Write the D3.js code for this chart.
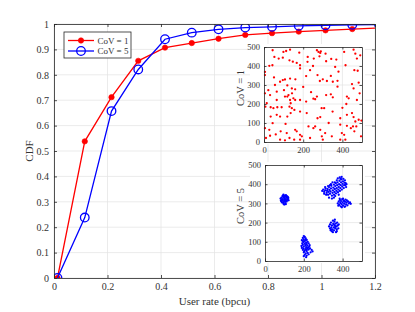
<!DOCTYPE html>
<html><head><meta charset="utf-8">
<script src="https://cdn.jsdelivr.net/npm/d3@7"></script>
<style>
body{margin:0;background:#fff}
svg{display:block;font-family:"Liberation Serif","Times New Roman",serif}
</style>
</head><body>
<svg id="c" width="415" height="312"></svg>
<script>
// ---------- data ----------
const rateX   = [0.013,0.115,0.215,0.315,0.415,0.515,0.615,0.715,0.815,0.915,1.015,1.115,1.215];
const cdfCoV1 = [0,0.538,0.712,0.855,0.907,0.925,0.942,0.957,0.964,0.970,0.975,0.980,0.984];
const cdfCoV5 = [0,0.238,0.657,0.821,0.940,0.966,0.979,0.986,0.989,0.993,0.995,0.997,0.998];
const seriesNames = ["CoV = 1","CoV = 5"];
const xTicks = [0,0.2,0.4,0.6,0.8,1,1.2];
const yTicks = [0,0.1,0.2,0.3,0.4,0.5,0.6,0.7,0.8,0.9,1];
const insetTicksX = [0,200,400];
const insetTicksY = [0,100,200,300,400,500];

const usersCoV1 = [[44,483],[99,474],[113,479],[133,486],[75,439],[43,404],[27,401],[53,448],[96,444],[130,430],
[147,423],[167,416],[184,404],[184,387],[223,448],[222,422],[254,439],[270,483],[278,474],[287,469],
[283,451],[290,477],[314,465],[317,425],[343,437],[369,434],[363,395],[409,474],[416,404],[457,486],
[466,465],[474,439],[491,456],[461,378],[478,375],[5,369],[5,352],[51,340],[82,317],[96,326],
[107,329],[133,334],[119,298],[142,282],[159,277],[215,347],[235,378],[273,352],[285,321],[321,321],
[341,348],[351,317],[375,322],[449,305],[483,312],[457,282],[5,256],[22,273],[31,247],[56,300],
[65,265],[102,273],[119,239],[125,247],[143,256],[159,221],[150,230],[133,221],[107,239],[65,221],
[34,183],[48,178],[68,183],[90,183],[130,186],[136,204],[184,221],[215,213],[261,225],[270,239],
[252,228],[317,247],[341,251],[351,235],[375,291],[423,239],[432,230],[474,221],[488,256],[7,186],
[14,204],[34,134],[65,143],[82,134],[119,134],[136,152],[142,178],[155,169],[184,160],[218,152],
[273,125],[287,131],[294,178],[307,178],[389,125],[423,143],[449,152],[457,131],[466,108],[483,117],
[497,113],[5,73],[27,64],[44,99],[85,56],[116,47],[159,64],[167,56],[184,38],[193,30],
[227,82],[252,73],[261,82],[287,64],[295,30],[312,47],[346,30],[389,91],[397,47],[409,38],
[423,85],[443,73],[454,82],[461,56],[471,82],[495,30],[10,21],[31,33],[82,12],[107,9],
[130,21],[154,12],[184,12],[235,21],[300,12],[389,12],[415,12],[160,330],[200,290],[240,262],
[400,180],[420,200],[350,160],[330,100],[300,330],[380,370],[250,400],[180,470],[110,95],[60,40]];

const usersCoV5 = [
// cluster near (100,320)
[85,330],[90,338],[95,345],[100,340],[108,343],[115,335],[120,328],[118,318],[112,310],[105,300],
[95,298],[88,305],[82,315],[80,325],[92,322],[100,328],[107,322],[98,312],[90,315],[110,330],
[103,335],[95,332],[87,320],[115,322],[104,308],[96,305],[122,316],[84,310],[100,318],[108,315],
[93,340],[112,338],[118,332],[99,294],[107,296],
// cluster near (207,80)
[200,130],[205,125],[195,120],[210,118],[200,112],[215,110],[190,108],[205,104],[198,98],[212,96],
[220,100],[192,92],[205,90],[215,88],[225,92],[195,84],[208,82],[218,80],[230,82],[188,78],
[200,75],[212,72],[222,70],[198,66],[208,62],[218,64],[232,66],[195,58],[205,55],[215,52],
[240,58],[245,50],[235,45],[200,45],[210,40],[220,42],[205,32],[215,28],[200,25],[225,35],
[212,20],[190,68],[228,75],[202,50],[214,60],[210,110],[225,60],[196,104],
// cluster near (355,385)
[295,365],[300,372],[305,360],[310,368],[312,378],[318,355],[320,365],[322,375],[325,345],[328,360],
[330,385],[332,370],[335,350],[338,362],[340,378],[342,392],[345,340],[348,355],[350,368],[352,382],
[355,398],[356,345],[358,360],[360,375],[362,390],[365,405],[366,352],[368,366],[370,380],[372,395],
[374,410],[376,358],[378,372],[380,386],[382,400],[384,418],[386,365],[388,380],[390,395],[392,410],
[394,425],[396,372],[398,388],[400,402],[402,415],[404,428],[406,380],[408,395],[410,408],[412,420],
[414,395],[416,405],[418,385],[375,430],[385,435],[395,438],[360,410],[340,400],[325,390],[315,345],
[305,350],[330,330],[345,325],[362,338],[380,345],[348,410],[370,420],[390,428],[420,400],[355,330],
[335,395],[310,385],
// cluster near (405,300)
[375,300],[380,310],[382,292],[386,318],[388,302],[390,285],[392,312],[395,296],[398,322],[400,305],
[402,288],[405,315],[408,298],[410,282],[412,308],[415,320],[418,295],[420,305],[425,290],[428,310],
[432,300],[438,305],[442,298],[396,280],[385,325],[402,325],[414,285],[422,316],[378,288],[408,312],
// cluster near (355,178)
[330,180],[335,170],[335,190],[338,160],[340,200],[342,175],[345,185],[348,165],[350,210],[350,150],
[352,195],[355,175],[356,160],[358,205],[360,185],[362,170],[365,195],[366,150],[368,180],[370,165],
[372,200],[375,185],[378,170],[380,190],[345,155],[360,215],[340,165],[370,155],[355,190],[363,178]];

// ---------- drawing ----------
const svg = d3.select("#c");
const AX = "#262626", GRID = "#e3e3e3";
const RED = "#ff0000", BLUE = "#0000ff";

const x = d3.scaleLinear().domain([0,1.2]).range([54,375]);
const y = d3.scaleLinear().domain([0,1]).range([278,24]);

// grid
const g = svg.append("g");
g.selectAll(".gx").data(xTicks).join("line")
  .attr("x1",d=>x(d)).attr("x2",d=>x(d)).attr("y1",y(0)).attr("y2",y(1))
  .attr("stroke",GRID).attr("stroke-width",0.7);
g.selectAll(".gy").data(yTicks).join("line")
  .attr("y1",d=>y(d)).attr("y2",d=>y(d)).attr("x1",x(0)).attr("x2",x(1.2))
  .attr("stroke",GRID).attr("stroke-width",0.7);

svg.append("clipPath").attr("id","clipMain").append("rect")
  .attr("x",x(0)).attr("y",y(1)).attr("width",x(1.2)-x(0)).attr("height",y(0)-y(1));

const plot = svg.append("g").attr("clip-path","url(#clipMain)");
const series = [
  {name:seriesNames[0], vals:cdfCoV1, color:RED, filled:true},
  {name:seriesNames[1], vals:cdfCoV5, color:BLUE, filled:false}
];
const line = d3.line().x(d=>x(d[0])).y(d=>y(d[1]));
series.forEach(s=>{
  const pts = rateX.map((r,i)=>[r,s.vals[i]]);
  plot.append("path").datum(pts).attr("d",line).attr("fill","none")
    .attr("stroke",s.color).attr("stroke-width",1.3);
  plot.selectAll(null).data(pts).join("circle")
    .attr("cx",d=>x(d[0])).attr("cy",d=>y(d[1]))
    .attr("r",s.filled?2.7:4.3)
    .attr("fill",s.filled?s.color:"none")
    .attr("stroke",s.color).attr("stroke-width",s.filled?0.6:1.3);
});

// axes
function styleAxis(sel){
  sel.selectAll("path,line").attr("stroke",AX).attr("stroke-width",0.8);
  sel.selectAll("text").attr("fill","#333").attr("font-size","10px")
     .attr("font-family","Liberation Serif, Times New Roman, serif");
}
const fmt = d=>String(d);
svg.append("g").attr("transform",`translate(0,${y(0)})`)
  .call(d3.axisBottom(x).tickValues(xTicks).tickFormat(fmt).tickSizeInner(-3).tickSizeOuter(0).tickPadding(5))
  .call(styleAxis);
svg.append("g").attr("transform",`translate(${x(0)},0)`)
  .call(d3.axisLeft(y).tickValues(yTicks).tickFormat(fmt).tickSizeInner(-3).tickSizeOuter(0).tickPadding(5))
  .call(styleAxis);
svg.append("g").attr("transform",`translate(0,${y(1)})`)
  .call(d3.axisTop(x).tickValues(xTicks).tickFormat("").tickSizeInner(-3).tickSizeOuter(0))
  .call(styleAxis);
svg.append("g").attr("transform",`translate(${x(1.2)},0)`)
  .call(d3.axisRight(y).tickValues(yTicks).tickFormat("").tickSizeInner(-3).tickSizeOuter(0))
  .call(styleAxis);

svg.append("text").attr("x",(x(0)+x(1.2))/2).attr("y",305).attr("text-anchor","middle")
  .attr("font-size","11px").attr("fill","#333").text("User rate (bpcu)");
svg.append("text").attr("transform",`translate(33,${(y(0)+y(1))/2}) rotate(-90)`)
  .attr("text-anchor","middle").attr("font-size","11px").attr("fill","#333").text("CDF");

// legend
const lg = svg.append("g");
lg.append("rect").attr("x",64).attr("y",32).attr("width",67).attr("height",26)
  .attr("fill","#fff").attr("stroke",AX).attr("stroke-width",0.8);
series.forEach((s,i)=>{
  const yy = 40.5 + i*10.5;
  lg.append("line").attr("x1",68).attr("x2",94).attr("y1",yy).attr("y2",yy)
    .attr("stroke",s.color).attr("stroke-width",1.3);
  lg.append("circle").attr("cx",81).attr("cy",yy).attr("r",s.filled?2.7:4.3)
    .attr("fill",s.filled?s.color:"none").attr("stroke",s.color).attr("stroke-width",s.filled?0.6:1.3);
  lg.append("text").attr("x",97.5).attr("y",yy).attr("dy","0.35em")
    .attr("font-size","9px").attr("fill","#333").text(s.name);
});

// insets
function inset(x0,x1,yTop,yBot,data,color,label,labelCy){
  const ix = d3.scaleLinear().domain([0,500]).range([x0,x1]);
  const iy = d3.scaleLinear().domain([0,500]).range([yBot,yTop]);
  const ig = svg.append("g");
  ig.append("rect").attr("x",250).attr("y",yTop-3).attr("width",x1-250+3).attr("height",yBot-yTop+5)
    .attr("fill","#fff");
  ig.selectAll(".vg").data([200,400]).join("line")
    .attr("x1",d=>ix(d)).attr("x2",d=>ix(d)).attr("y1",yTop).attr("y2",yBot)
    .attr("stroke",GRID).attr("stroke-width",0.7);
  ig.selectAll(".hg").data([100,200,300,400]).join("line")
    .attr("y1",d=>iy(d)).attr("y2",d=>iy(d)).attr("x1",x0).attr("x2",x1)
    .attr("stroke",GRID).attr("stroke-width",0.7);
  ig.selectAll(".pt").data(data).join("circle")
    .attr("cx",d=>ix(d[0])).attr("cy",d=>iy(d[1])).attr("r",1.15).attr("fill",color);
  const st = s=>{
    s.selectAll("path,line").attr("stroke",AX).attr("stroke-width",0.8);
    s.selectAll("text").attr("fill","#333").attr("font-size","8.5px")
     .attr("font-family","Liberation Serif, Times New Roman, serif");
  };
  ig.append("g").attr("transform",`translate(0,${yBot})`)
    .call(d3.axisBottom(ix).tickValues(insetTicksX).tickSizeInner(-2.5).tickSizeOuter(0).tickPadding(5)).call(st);
  ig.append("g").attr("transform",`translate(${x0},0)`)
    .call(d3.axisLeft(iy).tickValues(insetTicksY).tickSizeInner(-2.5).tickSizeOuter(0).tickPadding(4)).call(st);
  ig.append("g").attr("transform",`translate(0,${yTop})`)
    .call(d3.axisTop(ix).tickValues(insetTicksX).tickFormat("").tickSizeInner(-2.5).tickSizeOuter(0)).call(st);
  ig.append("g").attr("transform",`translate(${x1},0)`)
    .call(d3.axisRight(iy).tickValues(insetTicksY).tickFormat("").tickSizeInner(-2.5).tickSizeOuter(0)).call(st);
  ig.append("text").attr("transform",`translate(244,${labelCy}) rotate(-90)`)
    .attr("text-anchor","middle").attr("font-size","10.5px").attr("fill","#333").text(label);
}
inset(264,362,47,142,usersCoV1,RED,"CoV = 1",88);
inset(265,362,165,261,usersCoV5,BLUE,"CoV = 5",206);
</script>
</body></html>
